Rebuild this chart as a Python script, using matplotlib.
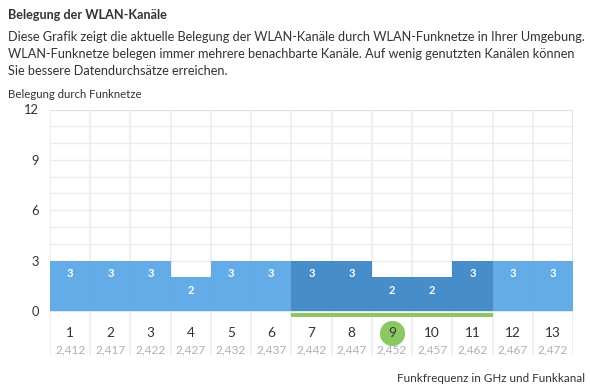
"""Belegung der WLAN-Kanaele als Balkendiagramm."""

import matplotlib

matplotlib.use("Agg")
import matplotlib.pyplot as plt

channels = list(range(1, 14))
frequencies = ["2,412", "2,417", "2,422", "2,427", "2,432", "2,437", "2,442",
               "2,447", "2,452", "2,457", "2,462", "2,467", "2,472"]
networks = [3, 3, 3, 2, 3, 3, 3, 3, 2, 2, 3, 3, 3]
own_channel = 9
own_range = (7, 11)

LIGHT = "#5ca8e6"
DARK = "#3c87c6"
GREEN = "#8cc862"
GRID = "#ececec"
FONT = "Lato"


def main():
    plt.rcParams["font.family"] = [FONT, "DejaVu Sans"]
    fig = plt.figure(figsize=(5.9, 3.92), dpi=100)

    fig.text(8 / 590, 1 - 15 / 392, "Belegung der WLAN-Kanäle", fontsize=9.1,
             fontweight="bold", color="#333333", va="center")
    body = ["Diese Grafik zeigt die aktuelle Belegung der WLAN-Kanäle durch WLAN-Funknetze in Ihrer Umgebung.",
            "WLAN-Funknetze belegen immer mehrere benachbarte Kanäle. Auf wenig genutzten Kanälen können",
            "Sie bessere Datendurchsätze erreichen."]
    for i, line in enumerate(body):
        fig.text(8 / 590, 1 - (37 + i * 17) / 392, line, fontsize=9.2,
                 color="#333333", va="center")
    fig.text(8 / 590, 1 - 94 / 392, "Belegung durch Funknetze", fontsize=8.2,
             color="#333333", va="center")
    fig.text(585 / 590, 1 - 379 / 392, "Funkfrequenz in GHz und Funkkanal",
             fontsize=8.4, color="#333333", va="center", ha="right")

    ax = fig.add_axes([50 / 590, 1 - 355 / 392, 523 / 590, 245.5 / 392])
    bottom = -2.62
    ax.set_xlim(0.5, 13.5)
    ax.set_ylim(bottom, 12)
    for s in ax.spines.values():
        s.set_visible(False)
    ax.set_xticks([])
    ax.set_yticks([0, 3, 6, 9, 12])
    ax.tick_params(axis="y", length=0, pad=8, labelsize=9.3, labelcolor="#333333")

    # grid
    for y in range(0, 13):
        ax.plot([0.5, 13.5], [y, y], color=GRID, lw=1, zorder=0)
    for x in range(0, 14):
        ax.plot([x + 0.5, x + 0.5], [bottom, 12], color=GRID, lw=1.2, zorder=0)
    ax.plot([0.5, 13.5], [12, 12], color="#e2e2e2", lw=1.2, zorder=0)
    ax.plot([13.5, 13.5], [0, 12], color="#e2e2e2", lw=1.2, zorder=0)
    ax.plot([0.5, 13.5], [0, 0], color="#e4e4e4", lw=1.2, zorder=0)

    colors = [DARK if own_range[0] <= c <= own_range[1] else LIGHT for c in channels]
    ax.bar(channels, networks, width=1.0, color=colors, alpha=0.95, zorder=2)
    for c, n in zip(channels, networks):
        ax.text(c, n - 0.78, str(n), ha="center", va="center", color="white",
                fontsize=8, fontweight="bold", zorder=3)

    # eigener Kanal
    ax.fill_between([own_range[0] - 0.5, own_range[1] + 0.5], -0.1, -0.33,
                    color=GREEN, lw=0, zorder=2)
    ax.scatter([own_channel], [-1.3], s=330, color=GREEN, zorder=2, lw=0)

    for c, f in zip(channels, frequencies):
        ax.text(c, -1.3, str(c), ha="center", va="center", fontsize=9.8,
                color="#333333", zorder=3)
        ax.text(c, -2.3, f, ha="center", va="center", fontsize=8.6,
                color="#b0b0b0", zorder=3)

    plt.savefig("out.png", dpi=100)


if __name__ == "__main__":
    main()
